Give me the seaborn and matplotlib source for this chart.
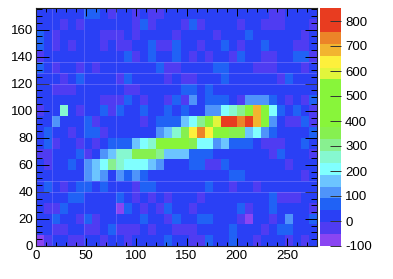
import numpy as np
import matplotlib
matplotlib.use("Agg")
import matplotlib.pyplot as plt
from matplotlib.colors import ListedColormap
import seaborn as sns

# bin contents, top row first (35 x 22 bins)
row_00 = [20,20,20,20,20, 20,70,70,20,-30, 20,20,-30,20,-30, -30,20,20,20,20, 20,20,20,20,20, 20,20,20,20,-30, -30,20,20,20,20]
row_01 = [20,20,20,-30,20, -30,20,20,20,20, 20,20,-30,70,-30, 20,20,20,-30,70, -30,20,20,20,20, -30,20,20,-30,-30, -30,20,20,20,-30]
row_02 = [70,20,-30,20,20, 20,20,20,-30,-30, -30,20,-30,20,20, 20,20,-30,20,20, 20,20,-30,20,20, 20,70,20,20,20, 20,20,20,-30,20]
row_03 = [70,20,-30,20,-30, 20,20,20,-30,20, -30,-30,20,20,70, -30,-30,70,20,20, -30,20,20,70,20, -30,20,20,70,20, 20,20,-30,-30,20]
row_04 = [-30,20,20,20,20, 20,20,20,20,20, 20,70,-30,20,70, 20,20,70,20,-30, 20,-30,20,20,-30, 70,20,20,-30,-30, 20,20,70,70,-30]
row_05 = [70,20,-30,20,20, -30,20,-30,20,20, 20,20,20,20,20, 70,-30,-30,20,20, 20,20,70,70,20, 20,20,-30,-30,-30, 20,20,20,-30,20]
row_06 = [20,20,20,-30,20, 70,20,20,20,20, -30,70,20,20,20, 20,-30,20,-30,-30, 20,20,20,70,20, 20,20,20,20,20, -30,70,20,20,20]
row_07 = [20,20,-30,-30,-30, 20,20,20,20,20, 20,-30,-30,20,20, 20,20,20,70,70, 20,70,20,20,20, 20,20,20,20,20, 20,20,20,20,20]
row_08 = [20,20,20,20,20, 20,20,20,-30,-30, -30,70,20,-30,20, 20,-30,70,-30,115, 20,70,70,70,20, -30,115,115,115,70, 20,-30,20,-30,70]
row_09 = [-30,20,20,255,20, -30,20,20,70,-30, 70,20,20,70,20, 20,70,20,70,20, 20,115,115,210,255, 305,400,685,400,210, 70,20,70,20,-30]
row_10 = [20,20,115,20,20, 20,70,-30,20,20, 20,20,20,-30,20, 70,70,70,160,210, 305,400,590,780,780, 735,780,685,400,115, 20,-30,-30,70,-30]
row_11 = [20,70,20,20,-30, 20,70,70,-30,20, 20,20,20,20,20, 115,160,255,350,640, 735,640,400,400,350, 350,160,210,115,70, 20,20,20,20,70]
row_12 = [20,70,-30,20,20, -30,20,-30,20,70, 70,70,160,210,255, 400,400,400,400,350, 210,210,115,160,70, 70,70,20,-30,-30, -30,20,20,70,20]
row_13 = [-30,-30,20,20,20, 70,-30,20,115,160, 255,255,350,350,350, 305,160,160,160,70, 70,70,20,20,20, 20,20,20,20,-30, 70,20,20,20,-30]
row_14 = [20,-30,20,20,70, 20,115,160,210,305, 255,210,210,210,160, 115,20,20,20,70, 70,-30,-30,70,20, 20,20,20,20,20, 20,-30,20,20,20]
row_15 = [20,20,20,20,20, 20,115,160,115,20, 115,70,115,70,20, 20,20,20,20,20, 20,20,20,20,70, 70,20,20,20,20, 20,20,20,-30,20]
row_16 = [20,70,20,-30,20, 70,70,20,70,20, 20,20,-30,70,70, 20,20,20,20,20, 20,70,20,20,-30, 20,20,-30,20,20, 20,20,20,20,20]
row_17 = [20,20,20,20,70, 70,20,20,20,20, 70,20,-30,20,-30, 20,-30,20,20,20, -30,20,20,20,20, 20,20,20,20,70, -30,-30,-30,20,20]
row_18 = [20,-30,-30,70,20, 20,20,20,20,20, -75,70,20,-30,20, -30,70,20,20,-30, 20,20,20,20,20, 70,-30,20,20,70, 20,20,20,20,-30]
row_19 = [20,20,70,20,20, -30,70,-30,20,20, 20,20,20,70,20, 20,-30,70,20,20, 70,70,20,20,20, -30,-75,20,20,-30, 20,115,20,20,70]
row_20 = [20,20,-30,-30,20, 20,-30,-30,20,70, -30,-30,-30,20,-30, 20,20,-30,-30,-30, 20,20,20,20,70, 20,20,20,-30,20, 70,70,20,20,20]
row_21 = [-75,-30,20,20,-30, -30,20,20,-30,20, 20,-30,20,20,20, 20,70,20,20,-30, -30,70,20,20,70, 20,20,-30,20,20, 20,-30,20,-30,20]

rows = [row_00, row_01, row_02, row_03, row_04, row_05, row_06, row_07, row_08, row_09, row_10,
        row_11, row_12, row_13, row_14, row_15, row_16, row_17, row_18, row_19, row_20, row_21]

palette = ["#8a45f2", "#4f3cf2", "#2a40f5", "#2062f5", "#4f94fa", "#6cc4ff", "#80ffff", "#86f8d0",
           "#88f090", "#86f050", "#88f53a", "#88f53a", "#88f53a", "#88f53a", "#e2f53c", "#fdf03c",
           "#f2b430", "#ec8428", "#e83c20", "#e83c20"]

x_major = [0, 50, 100, 150, 200, 250]
y_major = [0, 20, 40, 60, 80, 100, 120, 140, 160]
z_ticks = [-100, 0, 100, 200, 300, 400, 500, 600, 700, 800]

bin_w = 8
bin_h = 8
W, H = 393, 279

plt.rcParams['font.family'] = ['Liberation Sans', 'DejaVu Sans']
fig = plt.figure(figsize=(W / 100, H / 100), dpi=100)
ax = fig.add_axes([36 / W, 1 - 246 / H, 281 / W, 238 / H])
cax = fig.add_axes([320 / W, 1 - 246 / H, 21 / W, 238 / H])

sns.heatmap(np.array(rows), ax=ax, cbar_ax=cax, cmap=ListedColormap(palette), vmin=-100, vmax=852,
            xticklabels=False, yticklabels=False, linewidths=0)

# faint seams between some bins
for r in [5, 6, 7, 16, 17]:
    ax.axhline(r, color="#c0b0ff", lw=0.6, alpha=0.35)
for c in [2, 6, 10]:
    ax.axvline(c, color="#c0b0ff", lw=0.6, alpha=0.3)

# heatmap axes are in bin units, so ticks get divided by the bin size
n_rows = len(rows)
ax.set_xticks([v / bin_w for v in x_major])
ax.set_xticklabels([str(v) for v in x_major], fontsize=9.5)
ax.set_xticks([v / bin_w for v in range(0, 281, 10)], minor=True)
ax.set_yticks([n_rows - v / bin_h for v in y_major])
ax.set_yticklabels([str(v) for v in y_major], fontsize=9.5, rotation=0)
ax.set_yticks([n_rows - v / bin_h for v in range(0, 176, 5)], minor=True)
ax.tick_params(axis='x', which='major', direction='in', length=6, width=0.7, top=True, bottom=True, pad=3)
ax.tick_params(axis='x', which='minor', direction='in', length=3, width=0.7, top=True, bottom=True)
ax.tick_params(axis='y', which='major', direction='in', length=9, width=0.7, left=True, right=True, pad=2)
ax.tick_params(axis='y', which='minor', direction='in', length=4.5, width=0.7, left=True, right=True)
for side in ax.spines.values():
    side.set_visible(True)
    side.set_linewidth(0.8)
    side.set_color("#222222")

cax.set_yticks(z_ticks)
cax.set_yticklabels([str(v) for v in z_ticks], fontsize=9.5)
cax.tick_params(axis='y', direction='in', length=8, width=0.7, right=True, left=False, pad=3, color="#333333")
cax.minorticks_off()

fig.savefig("out.png", dpi=100)
